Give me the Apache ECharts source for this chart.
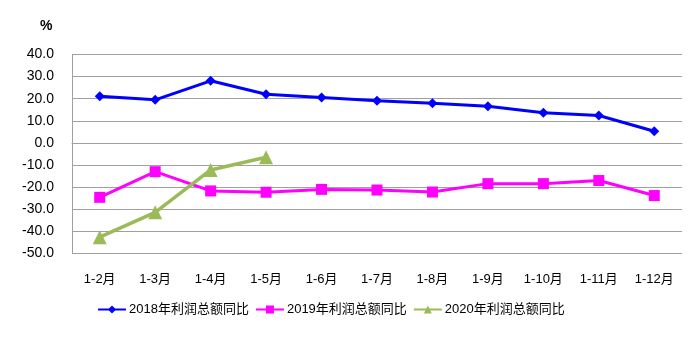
<!DOCTYPE html>
<html><head><meta charset="utf-8">
<script src="https://cdn.jsdelivr.net/npm/echarts@6/dist/echarts.min.js"></script>
<style>html,body{margin:0;padding:0;background:#fff}#c{width:700px;height:340px}</style>
</head><body><div id="c"></div>
<script>
const categories = ['1-2月','1-3月','1-4月','1-5月','1-6月','1-7月','1-8月','1-9月','1-10月','1-11月','1-12月'];
const s2018 = [21.1, 19.5, 28.1, 22.0, 20.5, 19.1, 18.0, 16.6, 13.7, 12.4, 5.3];
const s2019 = [-24.6, -13.0, -21.7, -22.3, -21.0, -21.3, -22.2, -18.4, -18.4, -17.0, -23.8];
const s2020 = [-42.6, -31.4, -12.2, -6.5];
const names = ['2018年利润总额同比','2019年利润总额同比','2020年利润总额同比'];
const font = '"Liberation Sans","Noto Sans CJK SC",sans-serif';
const chart = echarts.init(document.getElementById('c'));
chart.setOption({
  animation:false,
  graphic:[{type:'text',left:40,top:19,style:{text:'%',font:'bold 14px '+font,fill:'#000'}}],
  grid:{left:72,right:18,top:54.5,bottom:86.5},
  legend:{
    bottom:19,left:92,itemWidth:28,itemHeight:10,itemGap:6,
    textStyle:{fontFamily:font,fontSize:13,color:'#000',padding:[0,0,0,-2]},
    data:names
  },
  xAxis:{type:'category',data:categories,boundaryGap:true,
    axisLine:{lineStyle:{color:'#a0a0a0'}},axisTick:{show:false},
    axisLabel:{color:'#000',fontFamily:font,fontSize:13,margin:19,interval:0}},
  yAxis:{type:'value',min:-50,max:40,interval:10,
    axisLine:{show:true,lineStyle:{color:'#a0a0a0'}},axisTick:{show:false},
    splitLine:{lineStyle:{color:'#a0a0a0'}},
    axisLabel:{color:'#000',fontFamily:font,fontSize:14,margin:18,formatter:v=>v.toFixed(1)}},
  series:[
    {name:names[0],type:'line',data:s2018,symbol:'diamond',symbolSize:10,
     lineStyle:{color:'#0000ff',width:3},itemStyle:{color:'#0000ff'}},
    {name:names[1],type:'line',data:s2019,symbol:'rect',symbolSize:11,
     lineStyle:{color:'#ff00ff',width:3},itemStyle:{color:'#ff00ff'}},
    {name:names[2],type:'line',data:s2020,symbol:'triangle',symbolSize:14,
     lineStyle:{color:'#9bbb59',width:3.5},itemStyle:{color:'#9bbb59'}}
  ]
});
</script></body></html>
